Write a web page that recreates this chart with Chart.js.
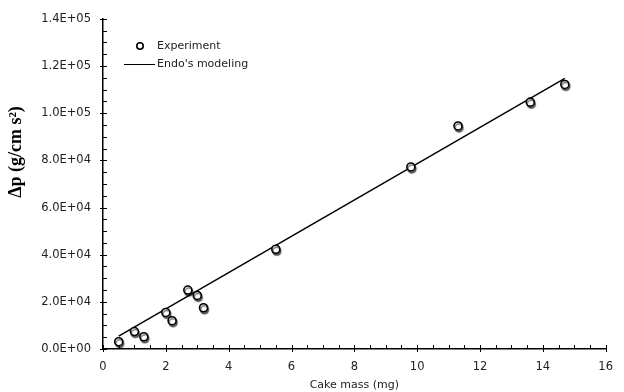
<!DOCTYPE html>
<html><head><meta charset="utf-8">
<script src="https://cdn.jsdelivr.net/npm/chart.js@4/dist/chart.umd.min.js"></script>
<style>html,body{margin:0;padding:0;background:#fff}#wrap{width:624px;height:392px}</style>
</head><body><div id="wrap"><canvas id="c" width="624" height="392"></canvas></div>
<script>
const expMass = [0.5, 1.0, 1.3, 2.0, 2.2, 2.7, 3.0, 3.2, 5.5, 9.8, 11.3, 13.6, 14.7];
const expDp = [3100, 7400, 5200, 15500, 12000, 25000, 22700, 17500, 42300, 77200, 94600, 104700, 112200];
const modelMass = [0.5, 14.7];
const modelDp = [5500, 114800];
const seriesNames = ["Experiment", "Endo's modeling"];
const xTitle = "Cake mass (mg)";
const yTitle = "Δp (g/cm s²)";

function sci(v){
  if (v === 0) return "0.0E+00";
  const e = Math.floor(Math.log10(Math.abs(v)));
  const m = v / Math.pow(10, e);
  return m.toFixed(1) + "E" + (e >= 0 ? "+" : "-") + String(Math.abs(e)).padStart(2, "0");
}

const tickFont = {family: "DejaVu Sans", size: 11.5};

const innerTicks = {
  id: 'innerTicks',
  afterDraw(chart){
    const ctx = chart.ctx, xs = chart.scales.x, ys = chart.scales.y;
    const ca = chart.chartArea;
    ctx.save();
    ctx.strokeStyle = '#000'; ctx.lineWidth = 1;
    ctx.beginPath();
    for (let v = 0; v <= 16.001; v += 0.5){
      const px = Math.round(xs.getPixelForValue(v)) + 0.5;
      const major = Math.abs(v/2 - Math.round(v/2)) < 1e-6;
      ctx.moveTo(px, ca.bottom - 4);
      ctx.lineTo(px, ca.bottom + (major ? 3 : 0));
    }
    for (let v = 0; v <= 140001; v += 5000){
      const py = Math.round(ys.getPixelForValue(v)) + 0.5;
      const major = v % 20000 === 0;
      ctx.moveTo(ca.left - (major ? 3 : 0), py);
      ctx.lineTo(ca.left + 4, py);
    }
    ctx.stroke();
    // y title
    ctx.save();
    ctx.translate(16, 152);
    ctx.rotate(-Math.PI/2);
    ctx.fillStyle = '#000';
    ctx.font = 'bold 18px "Liberation Serif"';
    ctx.textAlign = 'center'; ctx.textBaseline = 'middle';
    ctx.fillText(yTitle, 0, 0);
    ctx.restore();
    // legend
    ctx.font = '11px "DejaVu Sans"';
    ctx.textBaseline = 'middle'; ctx.textAlign = 'left';
    ctx.beginPath(); ctx.arc(140, 46, 3.2, 0, Math.PI*2);
    ctx.fillStyle = '#fff'; ctx.fill(); ctx.lineWidth = 1.6; ctx.strokeStyle = '#000'; ctx.stroke();
    ctx.fillStyle = '#222';
    ctx.fillText(seriesNames[0], 157, 46);
    ctx.beginPath(); ctx.moveTo(124, 64.5); ctx.lineTo(155, 64.5); ctx.lineWidth = 1; ctx.stroke();
    ctx.fillText(seriesNames[1], 157, 64);
    ctx.restore();
  }
};

const shadowPts = {
  id: 'shadowPts',
  beforeDatasetDraw(chart, args){
    if (args.index === 1){
      chart.ctx.save();
      chart.ctx.shadowColor = 'rgba(0,0,0,0.55)';
      chart.ctx.shadowOffsetX = 1; chart.ctx.shadowOffsetY = 2; chart.ctx.shadowBlur = 1;
    }
  },
  afterDatasetDraw(chart, args){
    if (args.index === 1) chart.ctx.restore();
  }
};

new Chart(document.getElementById('c'), {
  type: 'scatter',
  data: {
    datasets: [
      {label: seriesNames[1], type: 'line', data: modelMass.map((x,i)=>({x, y: modelDp[i]})),
       borderColor: '#000', borderWidth: 1.5, pointRadius: 0, fill: false, tension: 0, order: 2},
      {label: seriesNames[0], data: expMass.map((x,i)=>({x, y: expDp[i]})),
       backgroundColor: '#fff', borderColor: '#000', borderWidth: 1.6, pointRadius: 4, order: 1}
    ]
  },
  options: {
    responsive: false, animation: false, devicePixelRatio: 1,
    layout: {padding: {top: 18, right: 12, left: 0, bottom: 0}},
    plugins: {legend: {display: false}, tooltip: {enabled: false}},
    scales: {
      x: {type: 'linear', min: 0, max: 16,
        ticks: {stepSize: 2, font: tickFont, color: '#222', padding: 11},
        grid: {display: false, drawTicks: false, tickLength: 0},
        border: {display: true, color: '#000', width: 1.5},
        title: {display: true, text: xTitle, font: {family: "DejaVu Sans", size: 11}, color: '#222', padding: {top: 2, bottom: 0}},
        afterFit(s){ s.height = 43; }
      },
      y: {type: 'linear', min: 0, max: 140000,
        ticks: {stepSize: 20000, font: tickFont, color: '#222', padding: 12, callback: v => sci(v)},
        grid: {display: false, drawTicks: false, tickLength: 0},
        border: {display: true, color: '#000', width: 1.5},
        afterFit(s){ s.width = 103; }
      }
    }
  },
  plugins: [innerTicks, shadowPts]
});
</script></body></html>
